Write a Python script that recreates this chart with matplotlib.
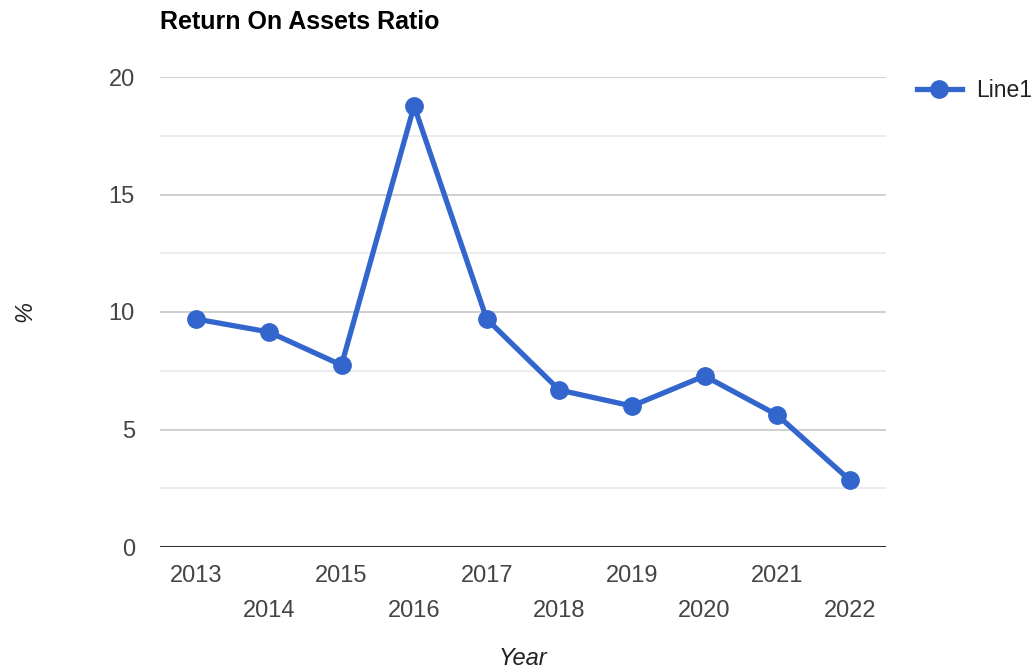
import matplotlib.pyplot as plt
from matplotlib.ticker import MultipleLocator

YEARS = ["2013", "2014", "2015", "2016", "2017", "2018", "2019", "2020", "2021", "2022"]
ROA = [9.70, 9.15, 7.74, 18.77, 9.70, 6.68, 6.00, 7.28, 5.62, 2.85]

LINE_COLOR = "#3366cc"

plt.rcParams['font.family'] = ['Liberation Sans', 'DejaVu Sans']

fig = plt.figure(figsize=(10.35, 6.69), dpi=100)
ax = fig.add_axes([160/1035, (669-547)/669, (886-160)/1035, (547-77)/669])

x = list(range(len(YEARS)))
ax.plot(x, ROA, color=LINE_COLOR, linewidth=3.8, marker='o', markersize=12.5, label="Line1")

ax.set_xlim(-0.5, len(YEARS) - 0.5)
ax.set_ylim(0, 20)
ax.yaxis.set_major_locator(MultipleLocator(5))
ax.yaxis.set_minor_locator(MultipleLocator(2.5))
ax.grid(True, which='major', axis='y', color='#cccccc', linewidth=1.3)
ax.grid(True, which='minor', axis='y', color='#ebebeb', linewidth=1.3)
ax.set_axisbelow(True)
ax.axhline(0, color='#333333', linewidth=2.2, zorder=1)

for s in ax.spines.values():
    s.set_visible(False)

ax.set_xticks(x)
labels = [y if i % 2 == 0 else "\n" + y for i, y in enumerate(YEARS)]
ax.set_xticklabels(labels, linespacing=1.75)
ax.tick_params(axis='x', length=0, pad=13, labelsize=17, labelcolor='#444444')
ax.tick_params(axis='y', which='both', length=0, pad=18, labelsize=17, labelcolor='#444444')

ax.set_xlabel("Year", fontsize=17, style='italic', color='#222222', labelpad=18)
ax.set_ylabel("%", fontsize=17, style='italic', color='#222222', labelpad=52)

fig.text(160/1035, 1 - 22/669, "Return On Assets Ratio", fontsize=18, fontweight='bold',
         color='black', va='center', ha='left')

ax.legend(loc='upper left', bbox_to_anchor=(1.02, 1.03), frameon=False, fontsize=16.5,
          handlelength=2.0, labelcolor='#222222', borderaxespad=0.3, handletextpad=0.6)

fig.savefig("out.png", dpi=100)
